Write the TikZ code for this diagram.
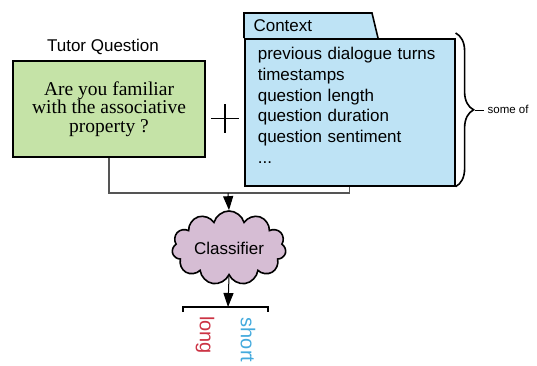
\documentclass[tikz,border=0pt]{standalone}
\usepackage{fontspec}
\setmainfont{Liberation Sans}
\newfontfamily\qserif{Liberation Serif}
\usetikzlibrary{positioning, arrows.meta, shapes.symbols, decorations.pathreplacing}

\definecolor{qgreen}{HTML}{C5E3A7}
\definecolor{ctxblue}{HTML}{BEE3F5}
\definecolor{cloudpink}{HTML}{D6BDD4}
\definecolor{longred}{HTML}{CC3344}
\definecolor{shortblue}{HTML}{44AADD}
\definecolor{linkgray}{HTML}{555555}

\begin{document}
\begin{tikzpicture}[
    x=1pt, y=-1pt,
    every node/.style={font=\fontsize{17}{20.7}\selectfont},
    qbox/.style={
        draw,
        line width=1.6pt,
        fill=qgreen,
        minimum width=192pt,
        minimum height=96pt,
        align=center,
        font=\qserif\fontsize{19.5}{18.5}\selectfont
    },
    ctxbox/.style={
        draw,
        line width=1.6pt,
        fill=ctxblue,
        text width=184pt,
        inner xsep=13pt,
        minimum height=147pt,
        align=left
    },
    cloudnode/.style={
        shape=cloud,
        cloud puffs=11,
        aspect=1.8,
        draw,
        line width=1.6pt,
        fill=cloudpink,
        minimum width=114pt,
        minimum height=64pt,
        inner sep=0pt
    },
    link/.style={draw=linkgray, line width=1.1pt},
    arrow/.style={-{Triangle[length=14pt,width=10pt]}, line width=1pt},
    bar/.style={line width=1.4pt}
]
    \useasboundingbox (0,0) rectangle (537,365);

    \node[qbox] (question) at (109,109) {Are you familiar\\with the associative\\property ?};
    \node (qlabel) [above=2pt of question, xshift=-6pt] {Tutor Question};
    \node[minimum size=28pt, inner sep=0pt] (plus) at (225,118.5) {};
    \draw[line width=1.5pt] (plus.north) -- (plus.south) (plus.west) -- (plus.east);

    \coordinate (ctxcorner) at (244,38);
    \draw[line width=1.6pt, fill=ctxblue] (ctxcorner) -- ++(0,-25) -- ++(128,0) -- ++(6,25);
    \node[ctxbox, anchor=north west] (ctxbody) at (ctxcorner) {previous dialogue turns\\timestamps\\question length\\question duration\\question sentiment\\...\rule[-14pt]{0pt}{14pt}};
    \node[anchor=west] (ctxlabel) at ([xshift=6pt, yshift=12pt]ctxcorner) {Context};

    \draw[decorate, decoration={brace, amplitude=18pt, aspect=0.5}, line width=1.6pt]
        ([yshift=5pt]ctxbody.north east) -- (ctxbody.south east);
    \coordinate (bracetip) at ([xshift=19pt, yshift=2.5pt]ctxbody.east);
    \node (someof) [right=9.5pt of bracetip, font=\fontsize{11.5}{13}\selectfont] {some of};
    \draw (bracetip) -- (someof.west);

    \coordinate (join) at (228,193);
    \draw[link] (question.south) |- (ctxbody.south |- join) -- (ctxbody.south);

    \node[cloudnode] (classifier) at (229,248) {Classifier};
    \draw[arrow] (join) -- (classifier.north);

    \coordinate (split) at (228,307);
    \draw[arrow] (classifier.south) -- (split);
    \draw[bar] ([xshift=-45pt, yshift=-5pt]split) -- ([xshift=-45pt]split)
        -- ([xshift=40pt]split) -- ([xshift=40pt, yshift=-5pt]split);

    \node[rotate=-90, text=longred, font=\fontsize{20}{20}\selectfont] (long) at (205,335) {long};
    \node[rotate=-90, text=shortblue, font=\fontsize{20}{20}\selectfont] (short) at (248,340) {short};

\end{tikzpicture}
\end{document}
